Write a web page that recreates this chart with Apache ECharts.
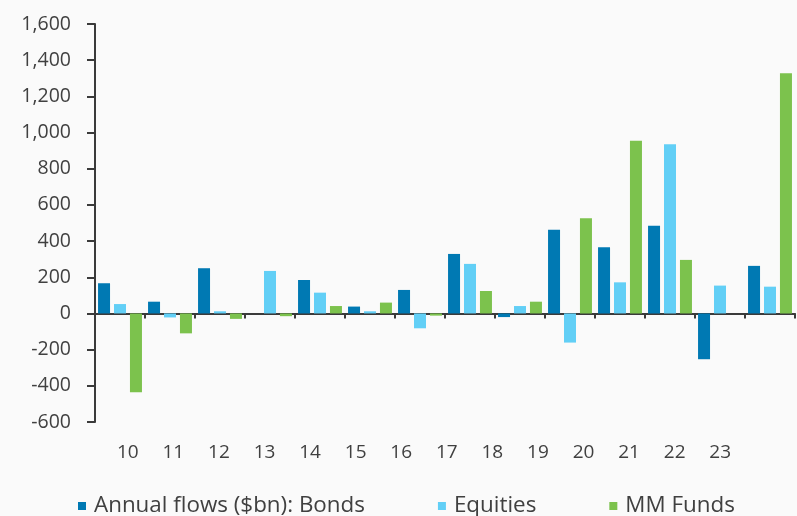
<!DOCTYPE html>
<html>
<head>
<meta charset="utf-8">
<script src="https://cdn.jsdelivr.net/npm/echarts@6/dist/echarts.min.js"></script>
<style>
  html, body { margin: 0; padding: 0; background: #fafafa; }
  #chart { width: 797px; height: 516px; }
</style>
</head>
<body>
<div id="chart"></div>
<script>
// Annual fund flows by asset class, $bn (years 2010-2023)
const categories = ['10', '11', '12', '13', '14', '15', '16', '17', '18', '19', '20', '21', '22', '23'];
const bonds    = [167,  65, 250,   0, 185,  38, 130, 329, -20,  462, 366, 485, -253,  263];
const equities = [ 52, -22,  12, 235, 115,  12, -82, 274,  41, -161, 172, 935,  154,  148];
const mmFunds  = [-435, -110, -30, -15, 41, 60, -12, 124,  65,  526, 955, 296,    0, 1328];
const yTicks = { min: -600, max: 1600, step: 200 };

const seriesNames = ['Annual flows ($bn): Bonds', 'Equities', 'MM Funds'];
const colors = ['#0079b3', '#62cff6', '#7cc24d'];

const axisColor = '#3a3a3a';
const textColor = '#404040';
const font = '"Open Sans", "Liberation Sans", sans-serif';

const chart = echarts.init(document.getElementById('chart'), null, { renderer: 'canvas' });

function fmt(v) {
  return Number(v).toLocaleString('en-US');
}

const barStyle = (i) => ({
  name: seriesNames[i],
  type: 'bar',
  xAxisIndex: 0,
  yAxisIndex: 0,
  barWidth: 12,
  barGap: '33%',
  itemStyle: { color: colors[i] },
  emphasis: { disabled: true }
});

chart.setOption({
  backgroundColor: '#fafafa',
  animation: false,
  color: colors,
  textStyle: { fontFamily: font },
  grid: [
    { left: 95, right: 2, top: 24, bottom: 94, containLabel: false },
    // row of year labels under the plot
    { left: 105, width: 638, top: 430, height: 1, containLabel: false }
  ],
  legend: {
    top: 495,
    left: 78,
    padding: 0,
    itemWidth: 8,
    itemHeight: 8,
    itemGap: 73,
    icon: 'rect',
    textStyle: { color: textColor, fontSize: 22.4, fontFamily: font, padding: [0, 0, 0, 3] },
    data: seriesNames
  },
  xAxis: [
    {
      type: 'category',
      gridIndex: 0,
      data: categories,
      boundaryGap: true,
      axisLine: { onZero: true, lineStyle: { color: axisColor, width: 2 } },
      axisTick: { show: true, length: 5, lineStyle: { color: axisColor, width: 2 } },
      axisLabel: { show: false },
      splitLine: { show: false }
    },
    {
      type: 'category',
      gridIndex: 1,
      data: categories,
      boundaryGap: true,
      axisLine: { show: false },
      axisTick: { show: false },
      axisLabel: { color: textColor, fontSize: 19, fontFamily: font, margin: 12 },
      splitLine: { show: false }
    }
  ],
  yAxis: [
    {
      type: 'value',
      gridIndex: 0,
      min: yTicks.min,
      max: yTicks.max,
      interval: yTicks.step,
      axisLine: { show: true, lineStyle: { color: axisColor, width: 2 } },
      axisTick: { show: true, length: 8, lineStyle: { color: axisColor, width: 2 } },
      axisLabel: { color: textColor, fontSize: 19.5, fontFamily: font, margin: 24, formatter: fmt },
      splitLine: { show: false }
    },
    {
      type: 'value',
      gridIndex: 1,
      show: false
    }
  ],
  series: [
    Object.assign(barStyle(0), { data: bonds }),
    Object.assign(barStyle(1), { data: equities }),
    Object.assign(barStyle(2), { data: mmFunds })
  ]
});
</script>
</body>
</html>
